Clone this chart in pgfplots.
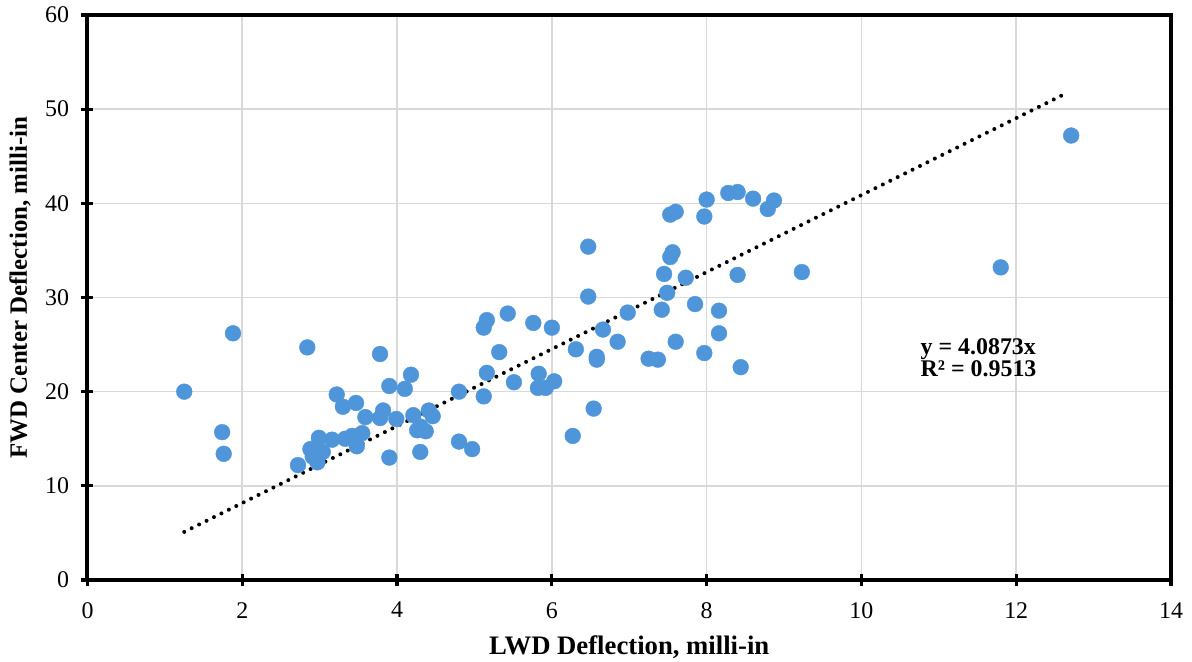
\documentclass[border=0pt]{standalone}
\usepackage{pgfplots}
\pgfplotsset{compat=1.18}
\usepackage{fontspec}
\setmainfont{Liberation Serif}

\definecolor{ptblue}{RGB}{79,149,217}
\definecolor{gridgray}{RGB}{217,217,217}

\pgfplotstableread{
x y
1.25 20.0
1.74 15.7
1.76 13.4
1.88 26.2
2.84 24.7
2.72 12.2
2.88 13.9
2.99 15.1
2.91 13.1
3.04 13.6
2.97 12.5
3.16 14.9
3.22 19.7
3.30 18.4
3.47 18.8
3.59 17.3
3.33 15.0
3.42 15.3
3.55 15.6
3.48 14.2
3.78 17.2
3.82 18.0
3.90 20.6
3.78 24.0
3.99 17.1
4.10 20.3
4.18 21.8
4.21 17.5
4.41 18.0
4.46 17.4
4.26 15.9
4.37 15.8
4.30 16.3
4.30 13.6
3.90 13.0
4.80 20.0
4.80 14.7
4.97 13.9
5.12 19.5
5.16 22.0
5.32 24.2
5.12 26.8
5.16 27.6
5.43 28.3
5.51 21.0
5.76 27.3
6.00 26.8
5.83 21.9
5.82 20.4
5.92 20.4
6.03 21.1
6.31 24.5
6.27 15.3
6.47 35.4
6.47 30.1
6.58 23.7
6.58 23.4
6.54 18.2
6.66 26.6
6.85 25.3
6.98 28.4
7.25 23.5
7.37 23.4
7.42 28.7
7.45 32.5
7.49 30.5
7.53 34.3
7.56 34.8
7.53 38.8
7.60 39.1
7.60 25.3
7.73 32.1
7.85 29.3
7.97 24.1
7.97 38.6
8.00 40.4
8.16 28.6
8.16 26.2
8.28 41.1
8.40 41.2
8.40 32.4
8.44 22.6
8.60 40.5
8.79 39.4
8.87 40.3
9.23 32.7
11.80 33.2
12.71 47.2
}\deflection

% linear fit through the origin, y = 4.0873x, over the data range
\pgfplotstableread{
x y
1.25 5.109
12.67 51.786
}\trend

\begin{document}
\begin{tikzpicture}
\path[use as bounding box] (-43.75bp,-41bp) rectangle (552.25bp,290bp);
\begin{axis}[
  scale only axis,
  width=541.75bp, height=282.5bp,
  xmin=0, xmax=14, ymin=0, ymax=60,
  xtick={0,2,...,14}, ytick={0,10,...,60},
  axis line style={black, line width=2bp},
  tick align=center,
  major tick length=6bp,
  tick style={black, line width=1.6bp},
  xtick pos=bottom, ytick pos=left,
  grid=major,
  major grid style={gridgray, line width=0.8bp},
  /pgf/number format/assume math mode=true,
  ticklabel style={font=\fontsize{12}{14}\selectfont},
  xticklabel style={yshift=-4.6bp},
  yticklabel style={xshift=-2.7bp},
  xlabel={\textbf{LWD Deflection, milli-in}},
  ylabel={\textbf{FWD Center Deflection, milli-in}},
  xlabel style={font=\fontsize{13.4}{15}\selectfont,
    at={(axis description cs:0.5,-0.1186)}, anchor=center},
  ylabel style={font=\fontsize{12.5}{15}\selectfont,
    at={(axis description cs:-0.0623,0.5177)}, anchor=center},
  clip=false,
]
\addplot[only marks, mark=*, mark size=3.95bp,
  mark options={fill=ptblue, draw=ptblue, line width=0.2bp}]
  table[x=x, y=y] {\deflection};
\addplot[black, line width=2bp, line cap=round,
  dash pattern=on 0bp off 4.15bp]
  table[x=x, y=y] {\trend};
\node[anchor=base west, inner sep=0pt,
  font=\fontsize{12}{14}\selectfont\bfseries]
  at (axis cs:10.76,23.9) {y = 4.0873x};
\node[anchor=base west, inner sep=0pt,
  font=\fontsize{12}{14}\selectfont\bfseries]
  at (axis cs:10.76,21.66) {R² = 0.9513};
\end{axis}
\end{tikzpicture}
\end{document}
